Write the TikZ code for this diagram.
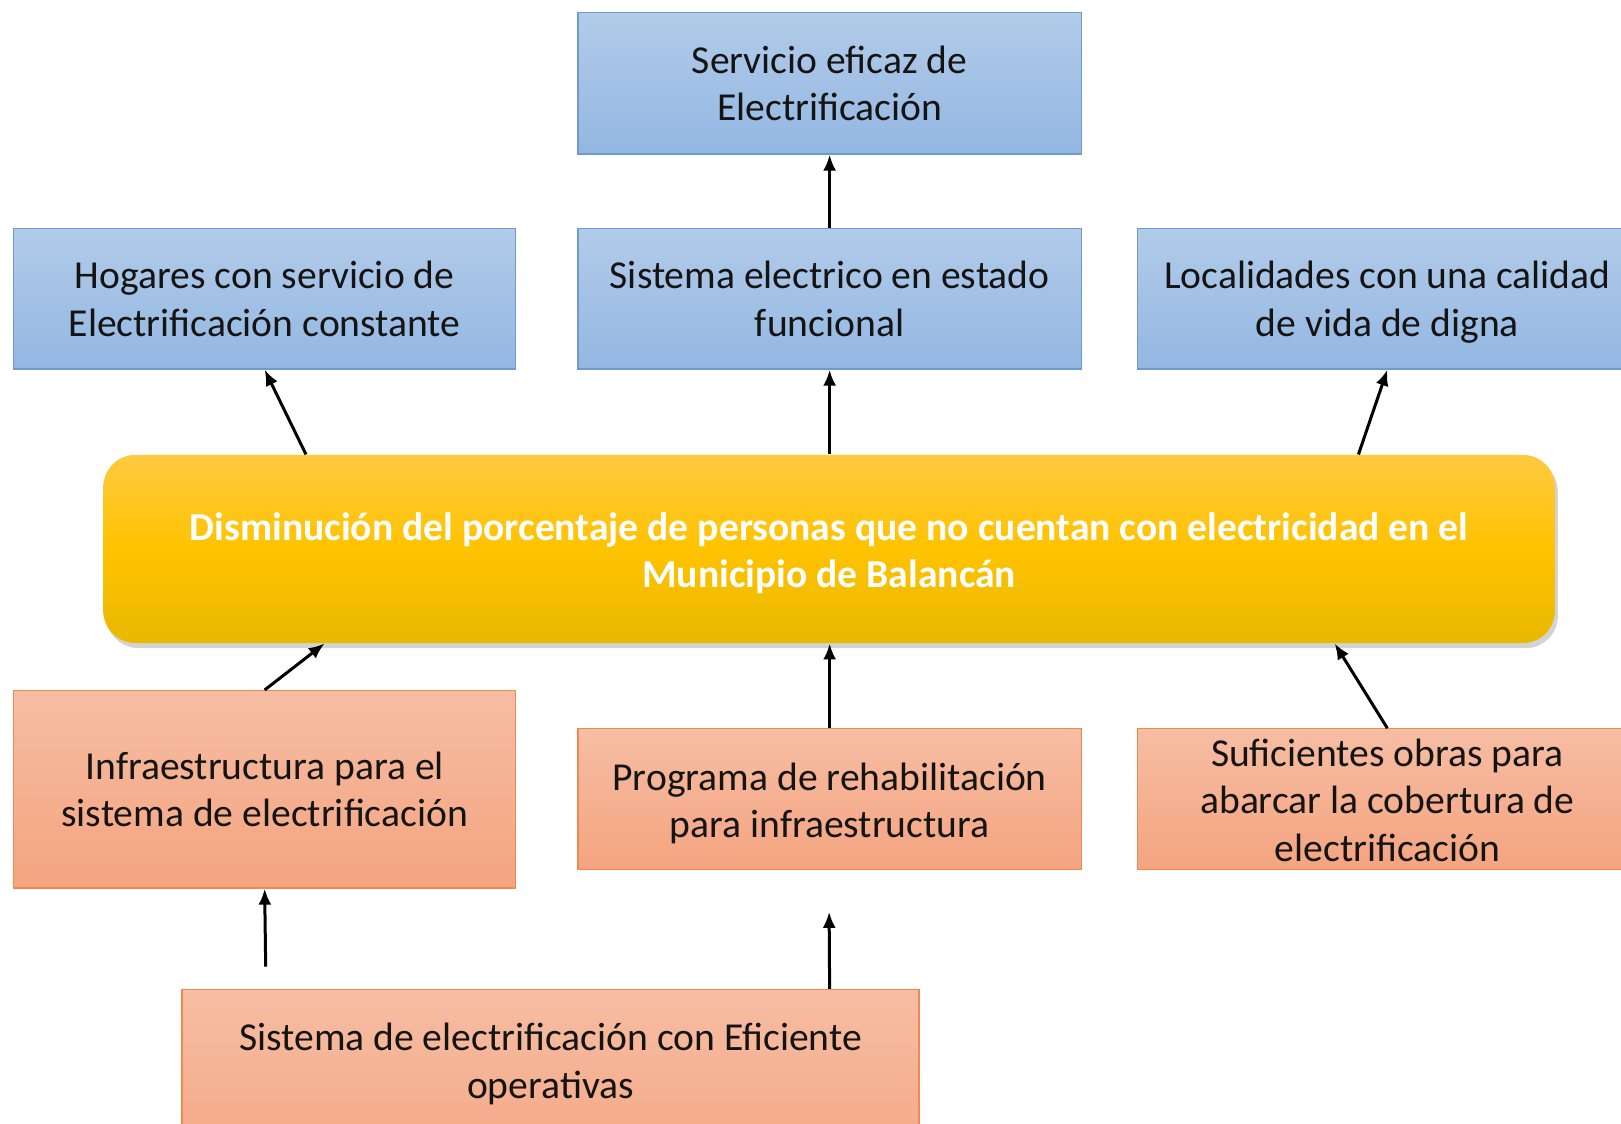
\documentclass[tikz,border=0pt]{standalone}
\usepackage{fontspec}
\setmainfont{Carlito}
\usetikzlibrary{arrows.meta,shadows,calc}
\definecolor{bluetop}{HTML}{B2CBE9}
\definecolor{bluebot}{HTML}{93B7E2}
\definecolor{blueline}{HTML}{6F9AD0}
\definecolor{saltop}{HTML}{F6BDA3}
\definecolor{salbot}{HTML}{F4A480}
\definecolor{salline}{HTML}{F0884F}
\definecolor{yeltop}{HTML}{FFC940}
\definecolor{yelmid}{HTML}{FFC300}
\definecolor{yelbot}{HTML}{E9B800}
\tikzset{
  bluebox/.style={draw=blueline, line width=0.6pt, top color=bluetop, bottom color=bluebot, inner sep=0pt},
  salbox/.style={draw=salline, line width=0.6pt, top color=saltop, bottom color=salbot, inner sep=0pt},
  yelbox/.style={rounded corners=16pt, top color=yeltop, bottom color=yelbot, middle color=yelmid, inner sep=0pt,
    drop shadow={opacity=0.35, shadow xshift=1.5pt, shadow yshift=-2.5pt}},
  txt/.style={align=center, font=\fontsize{19.8}{23.8}\selectfont, text=black!92},
  ytxt/.style={align=center, font=\fontsize{19.8}{23.8}\selectfont\bfseries, text=white},
  arr/.style={line width=1.5pt, -{Latex[length=8pt,width=6.5pt]}}
}
\begin{document}
\begin{tikzpicture}[x=0.5169pt,y=-0.5169pt]
\useasboundingbox (0,0) rectangle (1568,1087);
\clip (0,0) rectangle (1568,1087);
% top row
\node[bluebox, minimum width=487*0.5169pt, minimum height=137*0.5169pt, txt] (serv) at (802.5,80.5) {Servicio eficaz de\\Electrificación};
\node[bluebox, minimum width=486*0.5169pt, minimum height=136*0.5169pt, txt] (hog) at (256,289) {Hogares con servicio de\\Electrificación constante};
\node[bluebox, minimum width=487*0.5169pt, minimum height=136*0.5169pt, txt] (sis) at (802.5,289) {Sistema electrico en estado\\funcional};
\node[bluebox, minimum width=540*0.5169pt, minimum height=136*0.5169pt] (loc) at (1370,289) {};
\node[txt] (loctxt) at (1342,292) {Localidades con una calidad\\de vida de digna};
% central
\node[yelbox, minimum width=1404*0.5169pt, minimum height=182*0.5169pt] (yel) at (802,531) {};
\node[ytxt] (yeltxt) at (802,535) {Disminución del porcentaje de personas que no cuentan con electricidad en el\\Municipio de Balancán};
% lower row
\node[salbox, minimum width=486*0.5169pt, minimum height=191*0.5169pt, txt] (infra) at (256,763.5) {Infraestructura para el\\sistema de electrificación};
\node[salbox, minimum width=487*0.5169pt, minimum height=136*0.5169pt] (prog) at (802.5,773) {};
\node[txt] (progtxt) at (802.5,777) {Programa de rehabilitación\\para infraestructura};
\node[salbox, minimum width=540*0.5169pt, minimum height=136*0.5169pt] (suf) at (1370,773) {};
\node[txt] (suftxt) at (1342,774) {Suficientes obras para\\abarcar la cobertura de\\electrificación};
% bottom
\node[salbox, minimum width=713*0.5169pt, minimum height=200*0.5169pt] (sisE) at (532.5,1057) {};
\node[txt] (sisEtxt) at (532.5,1029) {Sistema de electrificación con Eficiente\\operativas};
% connectors
\draw[arr] (sis.north) -- (serv.south);
\draw[arr] (yel.north -| 296,0) -- (hog.south);
\draw[arr] (yel.north -| sis) -- (sis.south);
\draw[arr] (yel.north -| 1314,0) -- (loc.south -| 1342,0);
\draw[arr] (infra.north) -- (yel.south -| 314,0);
\draw[arr] (prog.north) -- (yel.south -| prog);
\draw[arr] (suf.north -| 1342,0) -- (yel.south -| 1291,0);
\coordinate (bstart) at (257,935);
\draw[arr] (bstart) -- (infra.south);
\coordinate (bend) at (802,882);
\draw[arr] (sisE.north -| prog) -- (bend);
\end{tikzpicture}
\end{document}
